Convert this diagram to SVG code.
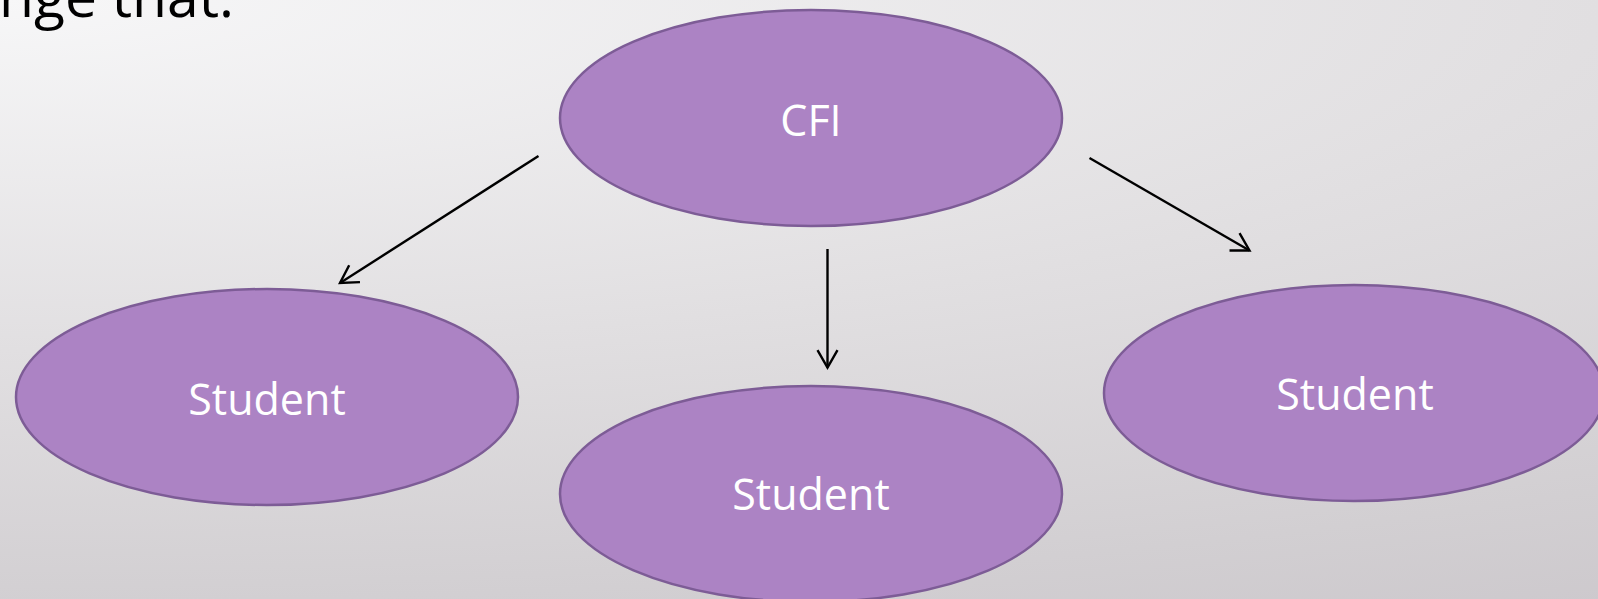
<svg xmlns="http://www.w3.org/2000/svg" width="1598" height="599" viewBox="0 0 1598 599">
<defs>
<radialGradient id="bg" gradientUnits="userSpaceOnUse" cx="0" cy="0" r="700" fx="0" fy="0" gradientTransform="scale(4.57,1)">
<stop offset="0" stop-color="#f7f7f8"/>
<stop offset="0.5" stop-color="#e1dfe1"/>
<stop offset="0.86" stop-color="#d2cfd2"/>
<stop offset="1" stop-color="#cdc9cd"/>
</radialGradient>
<marker id="arr" markerUnits="userSpaceOnUse" markerWidth="24" markerHeight="24" viewBox="0 0 24 24" refX="20" refY="10" orient="auto" overflow="visible">
<path d="M2.7,0 L20,10 L2.7,20" fill="none" stroke="#000" stroke-width="2.4" stroke-linejoin="miter"/>
</marker>
<style>
.node ellipse{fill:#ac83c4;stroke:#7d5c96;stroke-width:2.5}
.node text{font-family:"Open Sans","Noto Sans","Liberation Sans",sans-serif;font-size:43px;fill:#ffffff;text-anchor:middle}
.conn line{stroke:#000;stroke-width:2.4;marker-end:url(#arr)}
.title{font-family:"Open Sans","Noto Sans","Liberation Sans",sans-serif;font-size:57px;fill:#000}
</style>
</defs>
<rect x="0" y="0" width="1598" height="599" fill="url(#bg)"/>
<text class="title" x="-1" y="17">nge that.</text>
<g id="connectors" class="conn">
<line x1="538.5" y1="156" x2="340" y2="283"/>
<line x1="827.5" y1="249" x2="827.5" y2="367.5"/>
<line x1="1089.5" y1="158" x2="1249.5" y2="250.5"/>
</g>
<g id="cfi" class="node">
<ellipse cx="811" cy="118" rx="251" ry="108"/>
<text x="811" y="136">CFI</text>
</g>
<g id="student-left" class="node">
<ellipse cx="267" cy="397" rx="251" ry="108"/>
<text x="267" y="415">Student</text>
</g>
<g id="student-middle" class="node">
<ellipse cx="811" cy="494" rx="251" ry="108"/>
<text x="811" y="510">Student</text>
</g>
<g id="student-right" class="node">
<ellipse cx="1354" cy="393" rx="250" ry="108"/>
<text x="1355" y="410">Student</text>
</g>
</svg>
